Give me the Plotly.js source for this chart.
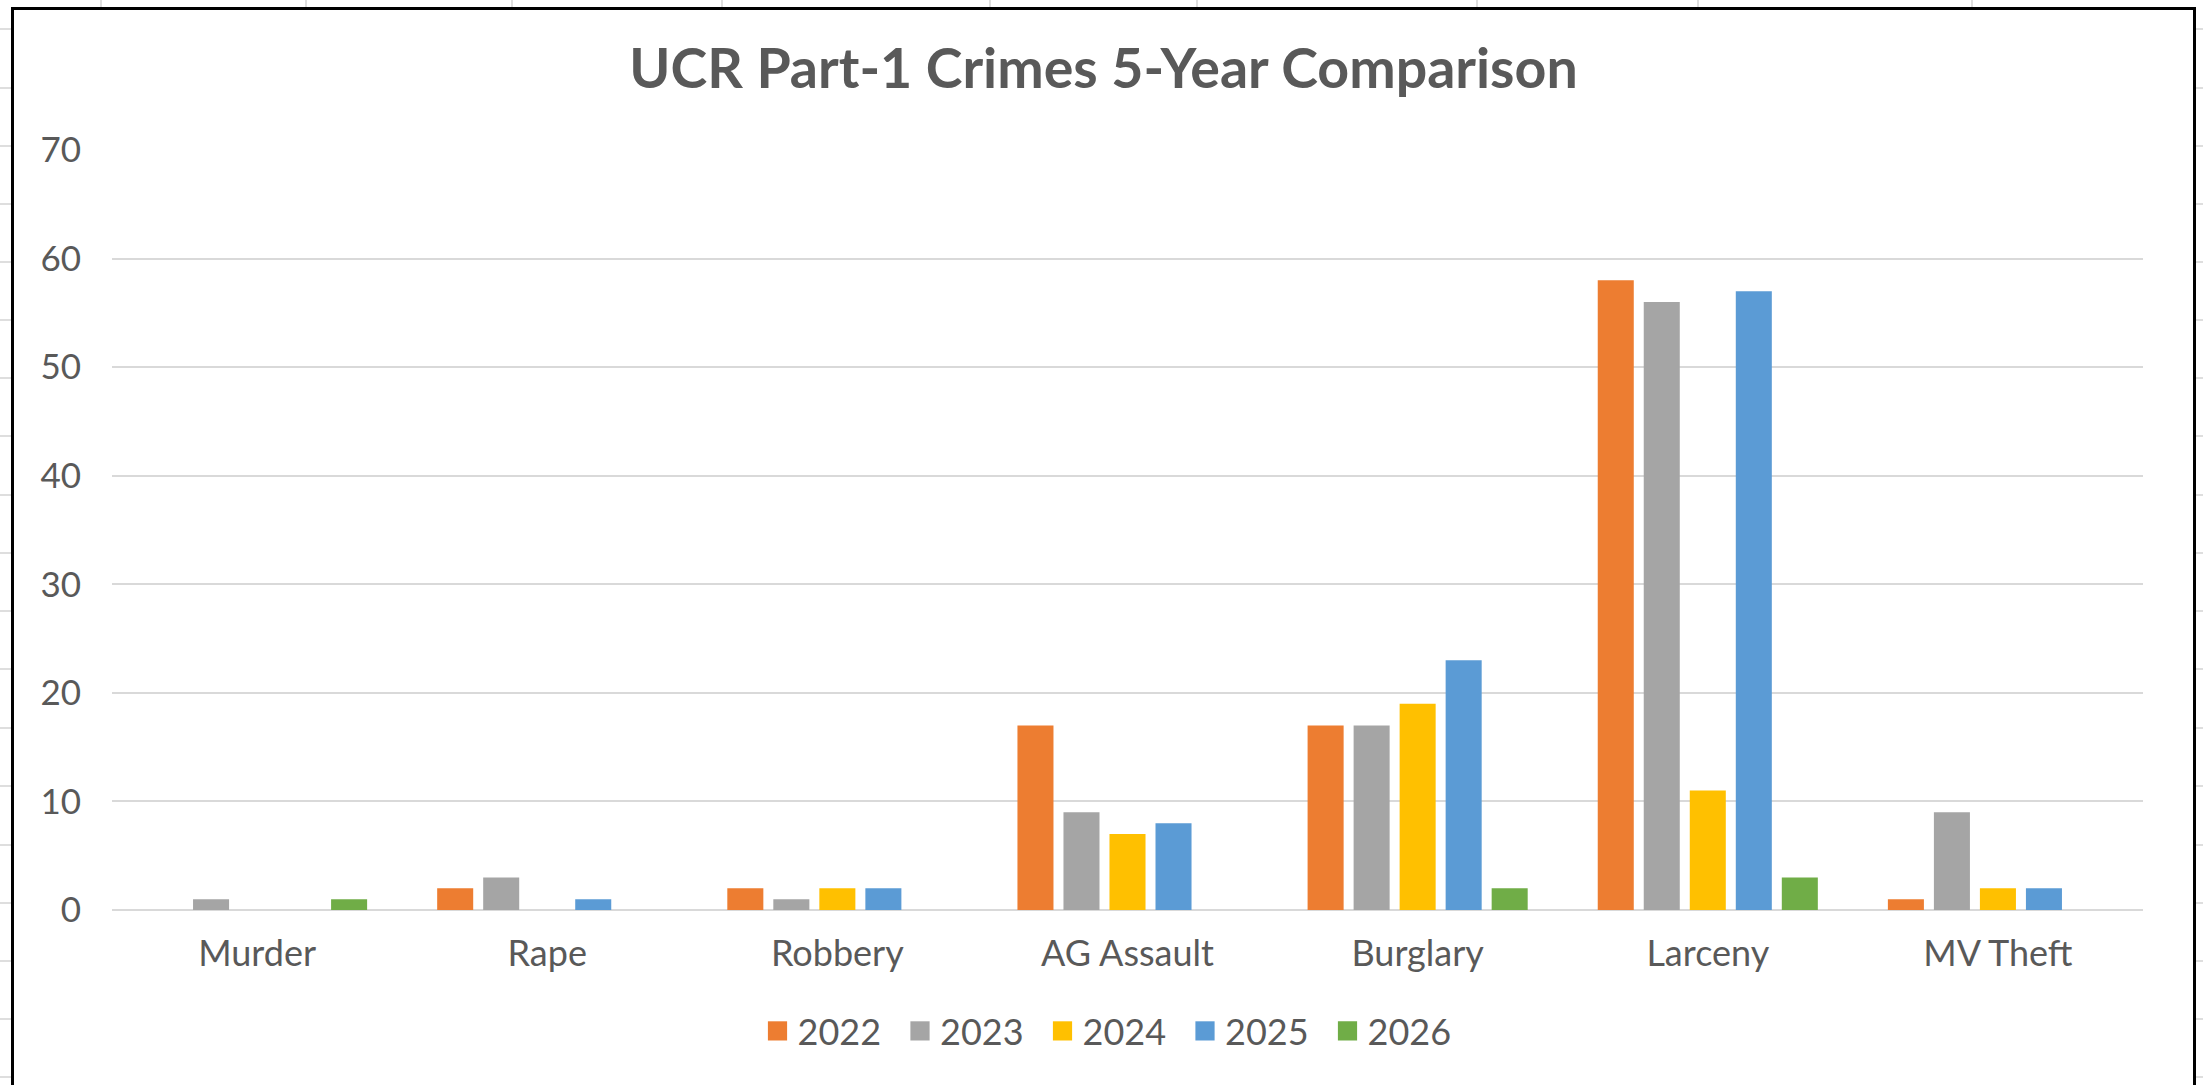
<!DOCTYPE html>
<html>
<head>
<meta charset="utf-8">
<script src="https://cdn.plot.ly/plotly-3.0.1.min.js"></script>
<style>
  html, body { margin: 0; padding: 0; background: #ffffff; width: 2203px; height: 1085px; overflow: hidden; }
  #sheet { position: absolute; left: 0; top: 0; width: 2203px; height: 1085px; }
  .vline { position: absolute; top: 0; width: 2px; height: 1085px; background: #dedede; }
  .hline { position: absolute; left: 0; height: 2px; width: 2203px; background: #dedede; }
  #frame { position: absolute; left: 11px; top: 7px; width: 2179px; height: 1100px; border: 3px solid #000; background: #fff; }
</style>
</head>
<body>
<div id="sheet"></div>
<div id="frame"><div id="chart"></div></div>
<script>
// ---- data ----
var categories = ['Murder', 'Rape', 'Robbery', 'AG Assault', 'Burglary', 'Larceny', 'MV Theft'];
var years = ['2022', '2023', '2024', '2025', '2026'];
var y2022 = [0, 2, 2, 17, 17, 58, 1];
var y2023 = [1, 3, 1, 9, 17, 56, 9];
var y2024 = [0, 0, 2, 7, 19, 11, 2];
var y2025 = [0, 1, 2, 8, 23, 57, 2];
var y2026 = [1, 0, 0, 0, 2, 3, 0];
var yTicks = [0, 10, 20, 30, 40, 50, 60, 70];

// ---- spreadsheet backdrop (decoration) ----
var sheetCols = [100, 305, 511, 721, 989, 1196, 1476, 1697, 1971];
var sheetRows = [28, 87, 145, 203, 261, 319, 377, 435, 494, 552, 610, 668, 727, 785, 844, 902, 960, 1018, 1076];
var sheet = document.getElementById('sheet');
sheetCols.forEach(function (x) { var d = document.createElement('div'); d.className = 'vline'; d.style.left = x + 'px'; sheet.appendChild(d); });
sheetRows.forEach(function (y) { var d = document.createElement('div'); d.className = 'hline'; d.style.top = y + 'px'; sheet.appendChild(d); });

var colors = ['#ED7D31', '#A5A5A5', '#FFC000', '#5B9BD5', '#70AD47'];
var series = [y2022, y2023, y2024, y2025, y2026];
var traces = series.map(function (vals, i) {
  return { type: 'bar', name: years[i], x: categories, y: vals, marker: { color: colors[i] }, hoverinfo: 'x+y+name' };
});

var FONT = 'Lato, "Liberation Sans", sans-serif';
var TXT = '#595959';
var W = 2179, H = 1100;

var layout = {
  width: W, height: H,
  paper_bgcolor: '#ffffff', plot_bgcolor: '#ffffff',
  margin: { l: 98, r: 50, t: 140, b: 200 },
  font: { family: FONT, color: TXT, size: 36 },
  title: { text: 'UCR Part-1 Crimes 5-Year Comparison', font: { family: FONT, size: 55.5, color: TXT, weight: 'bold' },
           x: 0.5, xanchor: 'center', xref: 'container', y: 1 - 59 / H, yanchor: 'middle', yref: 'container' },
  barmode: 'group', bargap: 0.207, bargroupgap: 0.217,
  xaxis: { type: 'category', showgrid: false, zeroline: false, showline: false, ticks: '',
           tickfont: { family: FONT, size: 36, color: TXT }, ticklabelstandoff: 19, fixedrange: true },
  yaxis: { range: [0, 70], tickvals: yTicks, showgrid: true, gridcolor: '#D9D9D9', gridwidth: 2,
           zeroline: true, zerolinecolor: '#D9D9D9', zerolinewidth: 2, showline: false, ticks: '',
           tickfont: { family: FONT, size: 35, color: TXT }, ticklabelstandoff: 30, fixedrange: true },
  showlegend: true,
  legend: { orientation: 'h', xref: 'container', yref: 'container', x: 1100 / W, xanchor: 'center',
            y: 1 - 1021 / H, yanchor: 'middle', font: { family: FONT, size: 36, color: TXT },
            entrywidth: 97.5, entrywidthmode: 'pixels', traceorder: 'normal', bgcolor: 'rgba(0,0,0,0)' }
};

Plotly.newPlot('chart', traces, layout, { displayModeBar: false, staticPlot: true }).then(function () {
  document.querySelectorAll('.legendpoints path').forEach(function (p) {
    p.setAttribute('transform', 'translate(20,0) scale(1.6)');
  });
});
</script>
</body>
</html>
